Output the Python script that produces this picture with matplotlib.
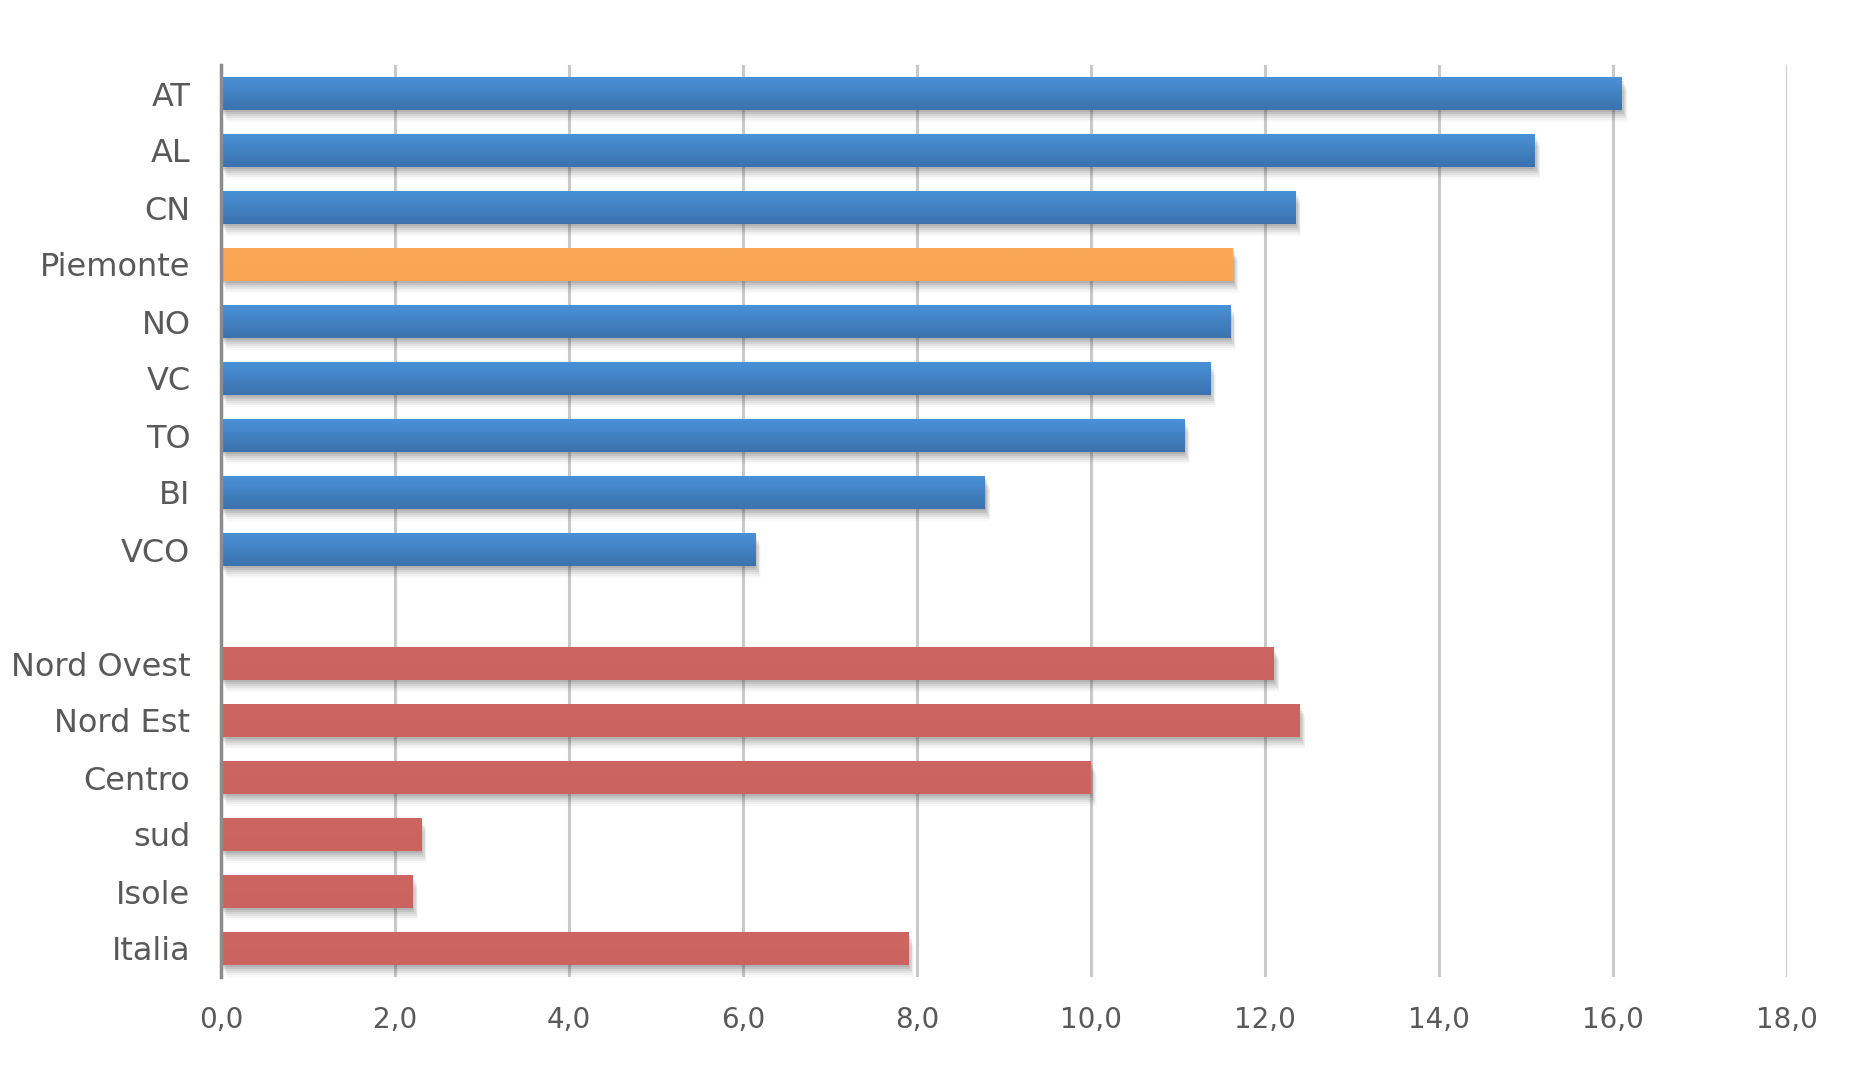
import numpy as np
import matplotlib
matplotlib.use("Agg")
import matplotlib.pyplot as plt
import matplotlib.patheffects as pe
from matplotlib.colors import LinearSegmentedColormap

# ---- data ----
categories = ["AT", "AL", "CN", "Piemonte", "NO", "VC", "TO", "BI", "VCO",
              "", "Nord Ovest", "Nord Est", "Centro", "sud", "Isole", "Italia"]
values = [16.1, 15.1, 12.35, 11.63, 11.6, 11.37, 11.07, 8.78, 6.14,
          None, 12.1, 12.4, 10.0, 2.3, 2.2, 7.9]
groups = ["prov", "prov", "prov", "region", "prov", "prov", "prov", "prov", "prov",
          None, "area", "area", "area", "area", "area", "area"]
xticks = [0, 2, 4, 6, 8, 10, 12, 14, 16, 18]
xticklabels = ["0,0", "2,0", "4,0", "6,0", "8,0", "10,0", "12,0", "14,0", "16,0", "18,0"]

grad_colors = {
    "prov": ("#4a91d8", "#3b72ad"),
    "region": ("#f9a857", "#f9a553"),
    "area": ("#cd6660", "#cb645e"),
}

plt.rcParams['font.family'] = ['DejaVu Sans']
fig = plt.figure(figsize=(18.5, 10.67), dpi=100)
ax = fig.add_axes([221 / 1850, 1 - 977 / 1067, (1787 - 221) / 1850, (977 - 65) / 1067])

n = len(categories)
ypos = np.arange(n)
h = 0.57
ax.set_xlim(0, 18)
ax.set_ylim(n - 0.5, -0.5)

shadow_effects = [pe.SimplePatchShadow(offset=(dx, dy), shadow_rgbFace="#444444", alpha=a)
                  for dx, dy, a in [(0.5, -1.5, 0.13), (1.5, -3, 0.11), (2.5, -4.5, 0.09),
                                    (3, -6, 0.07), (3.5, -7.5, 0.05), (4, -9, 0.03)]]

for y, v, g in zip(ypos, values, groups):
    if v is None:
        continue
    top, bot = grad_colors[g]
    sh = ax.barh(y, v, height=h, zorder=2)
    for r in sh:
        r.set_facecolor((1, 1, 1, 0))
        r.set_edgecolor("none")
        r.set_path_effects(shadow_effects)
    cmap = LinearSegmentedColormap.from_list("g", [top, bot])
    grad = np.linspace(0, 1, 64).reshape(-1, 1)
    ax.imshow(grad, extent=[0, v, y + h / 2, y - h / 2], aspect="auto", cmap=cmap,
              zorder=3, interpolation="bilinear", origin="upper")

ax.set_xlim(0, 18)
ax.set_ylim(n - 0.5, -0.5)

ax.set_yticks(ypos)
ax.set_yticklabels(categories)
ax.set_xticks(xticks)
ax.set_xticklabels(xticklabels)
ax.tick_params(axis="y", length=0, pad=22, labelsize=23, labelcolor="#595959")
ax.tick_params(axis="x", length=0, pad=21, labelsize=20, labelcolor="#595959")

ax.grid(axis="x", color="#c9c9c9", linewidth=2.2, zorder=1)
ax.set_axisbelow(True)
for s in ["top", "right", "bottom"]:
    ax.spines[s].set_visible(False)
ax.spines["left"].set_color("#8c8c8c")
ax.spines["left"].set_linewidth(2.5)
ax.spines["left"].set_zorder(5)

fig.savefig("out.png", dpi=100, facecolor="white")
